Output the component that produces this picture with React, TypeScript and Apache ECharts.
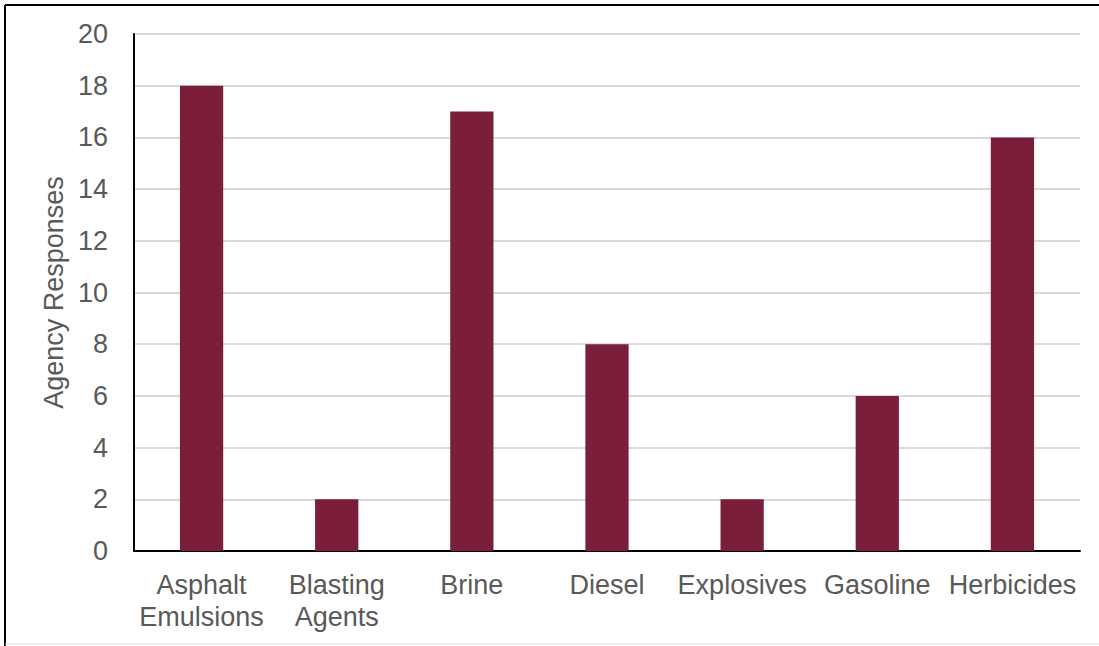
import React, { useEffect, useRef } from "react";
import * as echarts from "echarts";

const categories = [
  "Asphalt\nEmulsions",
  "Blasting\nAgents",
  "Brine",
  "Diesel",
  "Explosives",
  "Gasoline",
  "Herbicides",
];
const responses = [18, 2, 17, 8, 2, 6, 16];
const yAxisName = "Agency Responses";

export default function App() {
  const ref = useRef<HTMLDivElement>(null);
  useEffect(() => {
    if (!ref.current) return;
    const chart = echarts.init(ref.current, undefined, { renderer: "svg" });
    const font = "'Liberation Sans', Arial, sans-serif";
    chart.setOption({
      animation: false,
      backgroundColor: "#ffffff",
      grid: { left: 134, right: 19, top: 34, bottom: 95, containLabel: false },
      xAxis: {
        type: "category",
        data: categories,
        axisLine: { show: true, lineStyle: { color: "#000000", width: 2 } },
        axisTick: { show: false },
        axisLabel: {
          color: "#595959",
          fontSize: 27,
          fontFamily: font,
          lineHeight: 32,
          margin: 18,
          interval: 0,
        },
      },
      yAxis: {
        type: "value",
        min: 0,
        max: 20,
        interval: 2,
        name: yAxisName,
        nameLocation: "middle",
        nameGap: 64,
        nameTextStyle: { color: "#595959", fontSize: 27, fontFamily: font },
        axisLine: { show: true, lineStyle: { color: "#000000", width: 2 } },
        axisTick: { show: false },
        axisLabel: { color: "#595959", fontSize: 27, fontFamily: font, margin: 26 },
        splitLine: { show: true, lineStyle: { color: "#d9d9d9", width: 2 } },
      },
      series: [
        {
          type: "bar",
          data: responses,
          barWidth: "32%",
          itemStyle: { color: "#7b1e3a" },
        },
      ],
      graphic: [
        { type: "line", shape: { x1: 5, y1: 5, x2: 1099, y2: 5 }, style: { stroke: "#000", lineWidth: 2 } },
        { type: "line", shape: { x1: 5, y1: 5, x2: 5, y2: 646 }, style: { stroke: "#000", lineWidth: 2 } },
        { type: "line", shape: { x1: 5, y1: 644, x2: 1099, y2: 644 }, style: { stroke: "#e0e0e0", lineWidth: 1 } },
      ],
    });
    return () => chart.dispose();
  }, []);
  return (
    <div
      ref={ref}
      style={{ position: "absolute", left: 0, top: 0, width: 1099, height: 646 }}
    />
  );
}
